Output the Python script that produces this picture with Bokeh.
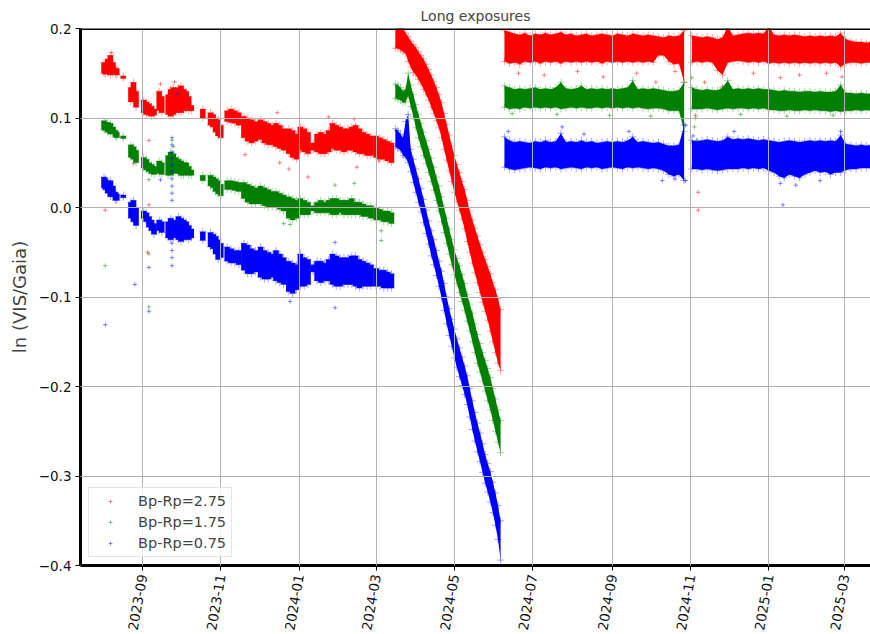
import math
import pandas as pd
from bokeh.plotting import figure
from bokeh.models import (ColumnDataSource, FixedTicker, DatetimeTickFormatter,
                          CustomJSTickFormatter, Range1d, Span, Legend, LegendItem)
from bokeh.embed import file_html
from bokeh.resources import INLINE

# ---------------- data ----------------
series_labels = ["Bp-Rp=2.75", "Bp-Rp=1.75", "Bp-Rp=0.75"]
series_colors = ["#ff0000", "#008000", "#0000ff"]

x_tick_labels = ["2023-09", "2023-11", "2024-01", "2024-03", "2024-05",
                 "2024-07", "2024-09", "2024-11", "2025-01", "2025-03"]
y_ticks = [-0.4, -0.3, -0.2, -0.1, 0.0, 0.1, 0.2]

# observation clumps, 2023-08 .. 2024-03 (value range of each clump)
early_dates = [
    "2023-08-02", "2023-08-03", "2023-08-05", "2023-08-07", "2023-08-09", "2023-08-11", "2023-08-12",
    "2023-08-17",
    "2023-08-23", "2023-08-25", "2023-08-27",
    "2023-09-02", "2023-09-04", "2023-09-06", "2023-09-08", "2023-09-10",
    "2023-09-14", "2023-09-16",
    "2023-09-21", "2023-09-23", "2023-09-25", "2023-09-27", "2023-09-29", "2023-10-01", "2023-10-03", "2023-10-05", "2023-10-07", "2023-10-09",
    "2023-10-18",
    "2023-10-24", "2023-10-26", "2023-10-28", "2023-10-30", "2023-11-01",
    "2023-11-06", "2023-11-09", "2023-11-12", "2023-11-15",
    "2023-11-19", "2023-11-22", "2023-11-25", "2023-11-28",
    "2023-12-02", "2023-12-05", "2023-12-08", "2023-12-11",
    "2023-12-14", "2023-12-17", "2023-12-20",
    "2023-12-24", "2023-12-27", "2023-12-30",
    "2024-01-02", "2024-01-05", "2024-01-08",
    "2024-01-12",
    "2024-01-15", "2024-01-18", "2024-01-21", "2024-01-24",
    "2024-01-27", "2024-01-30", "2024-02-02", "2024-02-05", "2024-02-08", "2024-02-11",
    "2024-02-14", "2024-02-17", "2024-02-20", "2024-02-23", "2024-02-26",
    "2024-03-01", "2024-03-04", "2024-03-07", "2024-03-10", "2024-03-13",
]
early_red_lo = [0.150, 0.149, 0.150, 0.148, 0.150, 0.149, 0.148,
                0.144,
                0.118, 0.120, 0.112,
                0.106, 0.104, 0.103, 0.102, 0.103,
                0.108, 0.106,
                0.104, 0.102, 0.104, 0.106, 0.108, 0.106, 0.108, 0.110, 0.108, 0.108,
                0.100,
                0.092, 0.090, 0.084, 0.080, 0.078,
                0.096, 0.095, 0.094, 0.092,
                0.078, 0.074, 0.072, 0.074,
                0.076, 0.072, 0.070, 0.070,
                0.068, 0.066, 0.064,
                0.060, 0.056, 0.054,
                0.064, 0.062, 0.060,
                0.064,
                0.062, 0.060, 0.060, 0.062,
                0.066, 0.064, 0.064, 0.062, 0.064, 0.064,
                0.062, 0.060, 0.060, 0.058, 0.058,
                0.056, 0.054, 0.054, 0.052, 0.050]
early_red_hi = [0.162, 0.160, 0.166, 0.170, 0.162, 0.156, 0.155,
                0.147,
                0.134, 0.140, 0.130,
                0.120, 0.118, 0.116, 0.113, 0.110,
                0.130, 0.124,
                0.126, 0.132, 0.134, 0.128, 0.134, 0.136, 0.132, 0.130, 0.124, 0.114,
                0.110,
                0.106, 0.104, 0.100, 0.098, 0.092,
                0.108, 0.110, 0.108, 0.106,
                0.102, 0.100, 0.098, 0.096,
                0.098, 0.096, 0.094, 0.092,
                0.094, 0.092, 0.088,
                0.088, 0.086, 0.082,
                0.090, 0.088, 0.084,
                0.072,
                0.082, 0.084, 0.082, 0.086,
                0.094, 0.092, 0.090, 0.088, 0.088, 0.090,
                0.092, 0.088, 0.084, 0.082, 0.080,
                0.080, 0.078, 0.076, 0.074, 0.072]
early_green_lo = [0.087, 0.086, 0.084, 0.082, 0.082, 0.079, 0.078,
                  0.077,
                  0.056, 0.054, 0.050,
                  0.044, 0.042, 0.040, 0.038, 0.037,
                  0.038, 0.037,
                  0.036, 0.036, 0.038, 0.040, 0.038, 0.036, 0.036, 0.038, 0.036, 0.036,
                  0.030,
                  0.024, 0.022, 0.018, 0.015, 0.013,
                  0.020, 0.020, 0.019, 0.018,
                  0.010, 0.006, 0.004, 0.004,
                  0.004, 0.002, 0.000, 0.000,
                  0.000, -0.002, -0.004,
                  -0.012, -0.014, -0.012,
                  -0.008, -0.008, -0.008,
                  -0.004,
                  -0.006, -0.006, -0.006, -0.006,
                  -0.008, -0.008, -0.006, -0.008, -0.008, -0.008,
                  -0.008, -0.008, -0.010, -0.010, -0.012,
                  -0.014, -0.014, -0.016, -0.016, -0.018]
early_green_hi = [0.097, 0.095, 0.095, 0.094, 0.090, 0.086, 0.084,
                  0.080,
                  0.070, 0.068, 0.064,
                  0.056, 0.054, 0.050, 0.048, 0.046,
                  0.052, 0.050,
                  0.058, 0.062, 0.060, 0.056, 0.054, 0.052, 0.050, 0.050, 0.046, 0.042,
                  0.036,
                  0.036, 0.034, 0.032, 0.030, 0.026,
                  0.030, 0.030, 0.029, 0.028,
                  0.028, 0.026, 0.024, 0.022,
                  0.024, 0.022, 0.020, 0.018,
                  0.018, 0.016, 0.014,
                  0.012, 0.010, 0.008,
                  0.010, 0.008, 0.006,
                  0.002,
                  0.006, 0.008, 0.006, 0.008,
                  0.010, 0.010, 0.008, 0.008, 0.008, 0.010,
                  0.006, 0.006, 0.004, 0.002, 0.002,
                  0.000, -0.002, -0.004, -0.004, -0.006]
early_blue_lo = [0.022, 0.020, 0.016, 0.012, 0.012, 0.008, 0.008,
                 0.011,
                 -0.012, -0.016, -0.020,
                 -0.012, -0.016, -0.022, -0.026, -0.030,
                 -0.026, -0.028,
                 -0.034, -0.036, -0.034, -0.030, -0.036, -0.038, -0.036, -0.034, -0.036, -0.034,
                 -0.037,
                 -0.044, -0.046, -0.052, -0.058, -0.056,
                 -0.060, -0.062, -0.062, -0.064,
                 -0.070, -0.074, -0.074, -0.072,
                 -0.078, -0.080, -0.080, -0.078,
                 -0.082, -0.084, -0.086,
                 -0.094, -0.096, -0.092,
                 -0.088, -0.088, -0.086,
                 -0.072,
                 -0.082, -0.084, -0.082, -0.082,
                 -0.086, -0.088, -0.088, -0.086, -0.086, -0.086,
                 -0.088, -0.090, -0.088, -0.088, -0.088,
                 -0.088, -0.088, -0.090, -0.090, -0.090]
early_blue_hi = [0.034, 0.032, 0.030, 0.030, 0.024, 0.017, 0.015,
                 0.014,
                 0.006, 0.008, 0.000,
                 -0.004, -0.006, -0.010, -0.014, -0.018,
                 -0.014, -0.016,
                 -0.016, -0.012, -0.014, -0.016, -0.010, -0.012, -0.014, -0.016, -0.020, -0.024,
                 -0.027,
                 -0.028, -0.030, -0.032, -0.036, -0.040,
                 -0.044, -0.046, -0.048, -0.048,
                 -0.040, -0.042, -0.046, -0.048,
                 -0.044, -0.048, -0.050, -0.052,
                 -0.048, -0.052, -0.056,
                 -0.060, -0.062, -0.064,
                 -0.052, -0.056, -0.058,
                 -0.064,
                 -0.060, -0.060, -0.062, -0.058,
                 -0.052, -0.054, -0.056, -0.056, -0.056, -0.054,
                 -0.054, -0.058, -0.060, -0.062, -0.064,
                 -0.068, -0.070, -0.070, -0.072, -0.074]

# the fast decline, 2024-03-16 .. 2024-06-06
decline_dates = [
    "2024-03-16", "2024-03-18", "2024-03-20", "2024-03-22", "2024-03-24", "2024-03-26", "2024-03-28", "2024-03-30",
    "2024-04-01", "2024-04-03", "2024-04-05", "2024-04-07", "2024-04-09", "2024-04-11", "2024-04-13", "2024-04-15",
    "2024-04-17", "2024-04-19", "2024-04-21", "2024-04-23", "2024-04-25", "2024-04-27", "2024-04-29",
    "2024-05-01", "2024-05-03", "2024-05-05", "2024-05-07", "2024-05-09", "2024-05-11", "2024-05-13", "2024-05-15",
    "2024-05-17", "2024-05-19", "2024-05-21", "2024-05-23", "2024-05-25", "2024-05-27", "2024-05-29", "2024-05-31",
    "2024-06-02", "2024-06-04", "2024-06-06",
]
decline_red_lo = [0.178, 0.178, 0.176, 0.174, 0.172, 0.163, 0.157, 0.151,
                  0.148, 0.143, 0.138, 0.132, 0.126, 0.120, 0.112, 0.105,
                  0.097, 0.089, 0.078, 0.065, 0.053, 0.041, 0.029,
                  0.017, 0.007, -0.003, -0.013, -0.024, -0.038, -0.050, -0.062,
                  -0.073, -0.084, -0.095, -0.106, -0.116, -0.126, -0.138, -0.150,
                  -0.162, -0.174, -0.182]
decline_red_hi = [0.205, 0.205, 0.205, 0.200, 0.195, 0.191, 0.186, 0.182,
                  0.179, 0.174, 0.170, 0.166, 0.160, 0.154, 0.148, 0.141,
                  0.134, 0.126, 0.117, 0.105, 0.093, 0.081, 0.069,
                  0.058, 0.048, 0.039, 0.029, 0.020, 0.008, -0.004, -0.014,
                  -0.023, -0.032, -0.041, -0.050, -0.058, -0.066, -0.074, -0.084,
                  -0.092, -0.102, -0.114]
decline_green_lo = [0.122, 0.121, 0.120, 0.117, 0.118, 0.125, 0.113, 0.102,
                    0.089, 0.078, 0.068, 0.058, 0.049, 0.039, 0.029, 0.019,
                    0.008, -0.004, -0.016, -0.028, -0.040, -0.052, -0.064,
                    -0.075, -0.085, -0.095, -0.105, -0.115, -0.127, -0.138, -0.150,
                    -0.162, -0.174, -0.184, -0.194, -0.205, -0.216, -0.226, -0.238,
                    -0.250, -0.262, -0.274]
decline_green_hi = [0.138, 0.137, 0.134, 0.130, 0.132, 0.150, 0.137, 0.126,
                    0.115, 0.104, 0.094, 0.084, 0.075, 0.065, 0.055, 0.045,
                    0.034, 0.024, 0.012, 0.000, -0.012, -0.024, -0.036,
                    -0.047, -0.057, -0.065, -0.075, -0.085, -0.097, -0.108, -0.118,
                    -0.130, -0.142, -0.152, -0.162, -0.171, -0.180, -0.190, -0.202,
                    -0.214, -0.226, -0.238]
decline_blue_lo = [0.068, 0.066, 0.064, 0.058, 0.056, 0.050, 0.040, 0.028,
                   0.017, 0.006, -0.005, -0.017, -0.029, -0.041, -0.054, -0.064,
                   -0.076, -0.088, -0.101, -0.115, -0.130, -0.143, -0.155,
                   -0.168, -0.179, -0.189, -0.199, -0.209, -0.220, -0.234, -0.248,
                   -0.261, -0.273, -0.284, -0.296, -0.308, -0.318, -0.329, -0.341,
                   -0.355, -0.371, -0.394]
decline_blue_hi = [0.088, 0.086, 0.082, 0.078, 0.096, 0.104, 0.065, 0.054,
                   0.043, 0.032, 0.021, 0.009, -0.003, -0.015, -0.026, -0.036,
                   -0.048, -0.060, -0.071, -0.085, -0.100, -0.113, -0.125,
                   -0.136, -0.147, -0.157, -0.167, -0.177, -0.188, -0.202, -0.216,
                   -0.229, -0.241, -0.252, -0.264, -0.276, -0.286, -0.295, -0.307,
                   -0.319, -0.333, -0.350]

# the stable period, 2024-06-09 .. 2025-03-22 (data gap near 2024-10-30)
late_dates = [
    "2024-06-09", "2024-06-13", "2024-06-17", "2024-06-21", "2024-06-25", "2024-06-29",
    "2024-07-03", "2024-07-07", "2024-07-11", "2024-07-15", "2024-07-19", "2024-07-23", "2024-07-27", "2024-07-31",
    "2024-08-04", "2024-08-08", "2024-08-12", "2024-08-16", "2024-08-20", "2024-08-24", "2024-08-28",
    "2024-09-01", "2024-09-05", "2024-09-09", "2024-09-13", "2024-09-17", "2024-09-21", "2024-09-25", "2024-09-29",
    "2024-10-03", "2024-10-07", "2024-10-11", "2024-10-15", "2024-10-19", "2024-10-23", "2024-10-27",
    "2024-11-02", "2024-11-06", "2024-11-10", "2024-11-14", "2024-11-18", "2024-11-22", "2024-11-26", "2024-11-30",
    "2024-12-04", "2024-12-08", "2024-12-12", "2024-12-16", "2024-12-20", "2024-12-24", "2024-12-28",
    "2025-01-01", "2025-01-05", "2025-01-09", "2025-01-13", "2025-01-17", "2025-01-21", "2025-01-25", "2025-01-29",
    "2025-02-02", "2025-02-06", "2025-02-10", "2025-02-14", "2025-02-18", "2025-02-22", "2025-02-26",
    "2025-03-02", "2025-03-06", "2025-03-10", "2025-03-14", "2025-03-18", "2025-03-22",
]
late_gap_index = 36  # first knot after the data gap
late_red_lo = [0.163, 0.161, 0.162, 0.160, 0.163, 0.162,
               0.163, 0.161, 0.163, 0.162, 0.163, 0.161, 0.163, 0.162,
               0.163, 0.162, 0.163, 0.162, 0.163, 0.161, 0.163,
               0.162, 0.163, 0.162, 0.163, 0.162, 0.163, 0.162, 0.163,
               0.162, 0.170, 0.170, 0.163, 0.160, 0.161, 0.140,
               0.162, 0.163, 0.162, 0.163, 0.162, 0.153, 0.148, 0.162,
               0.163, 0.164, 0.163, 0.162, 0.163, 0.162, 0.163,
               0.161, 0.162, 0.161, 0.162, 0.161, 0.162, 0.161, 0.162,
               0.161, 0.162, 0.161, 0.162, 0.161, 0.162, 0.157,
               0.161, 0.162, 0.162, 0.161, 0.162, 0.162]
late_red_hi = [0.198, 0.196, 0.194, 0.193, 0.195, 0.192,
               0.194, 0.193, 0.195, 0.193, 0.194, 0.196, 0.193, 0.194,
               0.192, 0.193, 0.194, 0.192, 0.193, 0.194, 0.193,
               0.192, 0.194, 0.193, 0.192, 0.194, 0.193, 0.192, 0.193,
               0.192, 0.191, 0.190, 0.192, 0.191, 0.192, 0.198,
               0.192, 0.191, 0.190, 0.191, 0.190, 0.188, 0.190, 0.203,
               0.192, 0.193, 0.194, 0.195, 0.194, 0.195, 0.194,
               0.203, 0.193, 0.192, 0.193, 0.192, 0.193, 0.192, 0.191,
               0.192, 0.191, 0.192, 0.191, 0.192, 0.191, 0.195,
               0.188, 0.186, 0.185, 0.185, 0.184, 0.185]
late_green_lo = [0.112, 0.110, 0.111, 0.110, 0.112, 0.111,
                 0.112, 0.111, 0.112, 0.111, 0.112, 0.110, 0.111, 0.112,
                 0.111, 0.112, 0.111, 0.111, 0.112, 0.111, 0.112,
                 0.111, 0.112, 0.111, 0.112, 0.111, 0.112, 0.111, 0.110,
                 0.111, 0.111, 0.110, 0.108, 0.108, 0.108, 0.085,
                 0.110, 0.110, 0.110, 0.111, 0.110, 0.109, 0.110, 0.111,
                 0.110, 0.111, 0.111, 0.110, 0.111, 0.110, 0.111,
                 0.109, 0.109, 0.108, 0.108, 0.109, 0.108, 0.108, 0.109,
                 0.108, 0.109, 0.108, 0.108, 0.107, 0.108, 0.107,
                 0.108, 0.108, 0.109, 0.108, 0.109, 0.108]
late_green_hi = [0.136, 0.134, 0.132, 0.133, 0.132, 0.133,
                 0.134, 0.132, 0.133, 0.132, 0.134, 0.140, 0.133, 0.132,
                 0.133, 0.136, 0.132, 0.133, 0.132, 0.133, 0.132,
                 0.133, 0.132, 0.133, 0.134, 0.142, 0.132, 0.133, 0.132,
                 0.133, 0.132, 0.131, 0.130, 0.130, 0.131, 0.140,
                 0.134, 0.132, 0.131, 0.132, 0.131, 0.131, 0.134, 0.142,
                 0.132, 0.133, 0.132, 0.133, 0.132, 0.133, 0.132,
                 0.132, 0.131, 0.130, 0.131, 0.130, 0.130, 0.129, 0.130,
                 0.130, 0.129, 0.130, 0.129, 0.129, 0.130, 0.137,
                 0.128, 0.128, 0.127, 0.128, 0.127, 0.127]
late_blue_lo = [0.045, 0.043, 0.042, 0.043, 0.044, 0.045,
                0.044, 0.043, 0.045, 0.044, 0.045, 0.043, 0.044, 0.045,
                0.044, 0.043, 0.045, 0.044, 0.045, 0.043, 0.044,
                0.045, 0.044, 0.043, 0.045, 0.044, 0.045, 0.044, 0.043,
                0.044, 0.043, 0.041, 0.037, 0.035, 0.037, 0.030,
                0.043, 0.043, 0.042, 0.043, 0.042, 0.041, 0.042, 0.043,
                0.043, 0.043, 0.044, 0.043, 0.044, 0.043, 0.044,
                0.041, 0.039, 0.035, 0.033, 0.037, 0.035, 0.033, 0.037,
                0.039, 0.041, 0.039, 0.040, 0.037, 0.039, 0.039,
                0.042, 0.043, 0.043, 0.044, 0.044, 0.044]
late_blue_hi = [0.079, 0.075, 0.073, 0.074, 0.073, 0.072,
                0.074, 0.073, 0.075, 0.073, 0.074, 0.083, 0.073, 0.074,
                0.073, 0.075, 0.073, 0.074, 0.072, 0.073, 0.074,
                0.073, 0.074, 0.073, 0.075, 0.079, 0.073, 0.074, 0.073,
                0.072, 0.073, 0.071, 0.069, 0.069, 0.070, 0.092,
                0.075, 0.074, 0.075, 0.076, 0.075, 0.074, 0.075, 0.079,
                0.076, 0.077, 0.076, 0.077, 0.076, 0.075, 0.076,
                0.075, 0.074, 0.073, 0.074, 0.075, 0.074, 0.073, 0.074,
                0.075, 0.074, 0.075, 0.074, 0.075, 0.074, 0.081,
                0.071, 0.070, 0.069, 0.070, 0.069, 0.070]

# isolated points away from the main bands
red_out_dates = ["2023-08-03", "2023-08-08", "2023-08-25", "2023-09-06", "2023-09-06", "2023-09-05", "2023-09-15",
                 "2023-09-26", "2023-11-20", "2023-12-15", "2023-12-17", "2023-12-24", "2024-01-08", "2024-01-24",
                 "2024-02-13", "2024-02-15", "2024-03-03", "2024-06-20", "2024-07-10", "2024-08-05", "2024-08-25",
                 "2024-09-20", "2024-10-05", "2024-10-20", "2024-11-05", "2024-11-07", "2024-11-07", "2024-11-09",
                 "2024-11-12", "2024-11-26", "2024-12-20", "2025-01-10", "2025-01-25", "2025-02-15", "2025-02-27"]
red_out_vals = [-0.003, 0.173, 0.049, 0.075, 0.003, -0.050, 0.138,
                0.140, 0.059, 0.106, 0.050, 0.043, 0.034, 0.101,
                0.099, 0.045, 0.052, 0.150, 0.148, 0.152, 0.146,
                0.150, 0.140, 0.152, 0.103, 0.017, -0.003, 0.072,
                0.140, 0.135, 0.150, 0.145, 0.148, 0.150, 0.146]
green_out_dates = ["2023-08-03", "2023-09-06", "2023-09-06", "2023-09-06", "2023-09-24", "2023-09-25", "2023-12-20",
                   "2023-12-25", "2024-01-29", "2024-02-13", "2024-03-05", "2024-03-05", "2024-06-15", "2024-07-20",
                   "2024-08-30", "2024-10-01", "2024-11-02", "2024-11-04", "2024-11-05", "2024-11-06", "2024-11-08",
                   "2024-12-10", "2025-01-15", "2025-02-20", "2025-02-26"]
green_out_vals = [-0.065, 0.031, -0.052, -0.111, 0.075, 0.068, -0.018,
                  -0.019, 0.025, 0.027, -0.026, -0.037, 0.105, 0.104,
                  0.103, 0.102, 0.145, 0.090, 0.100, 0.075, 0.060,
                  0.104, 0.102, 0.103, 0.135]
blue_out_dates = ["2023-08-03", "2023-08-26", "2023-09-06", "2023-09-06", "2023-09-15",
                  "2023-09-24", "2023-09-24", "2023-09-24", "2023-09-24", "2023-09-24", "2023-09-24", "2023-09-24",
                  "2023-09-24", "2023-09-24", "2023-09-24", "2023-09-24", "2023-09-24", "2023-09-24", "2023-09-24",
                  "2023-09-28", "2023-12-25", "2024-01-29", "2024-01-29",
                  "2024-06-12", "2024-07-24", "2024-08-10", "2024-09-14", "2024-10-10", "2024-10-20", "2024-10-28",
                  "2024-10-28", "2024-11-03", "2024-12-05", "2025-01-10", "2025-01-12", "2025-01-22", "2025-02-10",
                  "2025-02-26"]
blue_out_vals = [-0.131, -0.086, -0.067, -0.116, 0.031,
                 0.078, 0.070, 0.062, 0.055, 0.047, 0.040, 0.032,
                 0.024, 0.016, 0.008, -0.040, -0.048, -0.056, -0.065,
                 0.127, -0.105, -0.112, -0.039,
                 0.085, 0.090, 0.082, 0.085, 0.030, 0.032, 0.092,
                 0.030, 0.080, 0.085, 0.027, 0.003, 0.025, 0.030,
                 0.085]

# ---------------- figure ----------------
FONT = "DejaVu Sans"
p = figure(width=870, height=634, x_axis_type="datetime",
           output_backend="svg", toolbar_location=None,
           x_range=Range1d(pd.Timestamp("2023-07-14 17:00"), pd.Timestamp("2025-03-21 05:00")),
           y_range=Range1d(-0.4, 0.2),
           min_border_left=80, min_border_right=0, min_border_top=0, min_border_bottom=0,
           title="Long exposures")
p.outline_line_color = None
p.background_fill_color = "white"
p.border_fill_color = "white"

p.title.align = "center"
p.title.offset = 6
p.title.text_font = FONT
p.title.text_font_size = "14px"
p.title.text_font_style = "normal"

x_ticks = [pd.Timestamp(s + "-01").timestamp() * 1000 for s in x_tick_labels]
p.xaxis.ticker = FixedTicker(ticks=x_ticks)
p.xaxis.formatter = DatetimeTickFormatter(months="%Y-%m", days="%Y-%m", years="%Y-%m",
                                          hours="%Y-%m", minutes="%Y-%m")
p.xaxis.major_label_orientation = math.radians(80)
p.yaxis.ticker = FixedTicker(ticks=y_ticks)
p.yaxis.formatter = CustomJSTickFormatter(code="return tick.toFixed(1).replace('-', '\u2212');")
p.yaxis.axis_label = "ln (VIS/Gaia)"
p.yaxis.axis_label_text_font = FONT
p.yaxis.axis_label_text_font_size = "18px"
p.yaxis.axis_label_text_font_style = "normal"
p.yaxis.axis_label_standoff = 6

for ax in (p.xaxis[0], p.yaxis[0]):
    ax.axis_line_width = 3
    ax.axis_line_color = "black"
    ax.major_tick_in = 0
    ax.major_tick_out = 5
    ax.minor_tick_line_color = None
    ax.major_label_text_font = FONT
    ax.major_label_text_font_size = "13.5px"
    ax.major_label_text_color = "#111111"
    ax.major_label_standoff = 4

for g in (p.xgrid[0], p.ygrid[0]):
    g.grid_line_color = "#b0b0b0"
    g.grid_line_width = 1
    g.level = "guide"
p.xgrid.ticker = FixedTicker(ticks=x_ticks)
p.ygrid.ticker = FixedTicker(ticks=y_ticks)

p.add_layout(Span(location=0.2, dimension="width", line_color="black", line_width=3))

series = [
    (early_red_lo, early_red_hi, decline_red_lo, decline_red_hi, late_red_lo, late_red_hi,
     red_out_dates, red_out_vals),
    (early_green_lo, early_green_hi, decline_green_lo, decline_green_hi, late_green_lo, late_green_hi,
     green_out_dates, green_out_vals),
    (early_blue_lo, early_blue_hi, decline_blue_lo, decline_blue_hi, late_blue_lo, late_blue_hi,
     blue_out_dates, blue_out_vals),
]

items = []
for (elo, ehi, dlo, dhi, llo, lhi, od, ov), label, color in zip(series, series_labels, series_colors):
    assert len(elo) == len(ehi) == len(early_dates), label
    assert len(dlo) == len(dhi) == len(decline_dates), label
    assert len(llo) == len(lhi) == len(late_dates), label
    assert len(od) == len(ov), label
    # separate observation clumps
    esrc = ColumnDataSource(dict(x=pd.to_datetime(early_dates), lo=elo, hi=ehi))
    p.segment(x0="x", y0="lo", x1="x", y1="hi", source=esrc,
              line_color=color, line_alpha=1.0, line_width=5.5)
    # continuous bands
    pieces = [(decline_dates, dlo, dhi),
              (late_dates[:late_gap_index], llo[:late_gap_index], lhi[:late_gap_index]),
              (late_dates[late_gap_index:], llo[late_gap_index:], lhi[late_gap_index:])]
    for d, lo, hi in pieces:
        bsrc = ColumnDataSource(dict(x=pd.to_datetime(d), lo=lo, hi=hi))
        p.varea(x="x", y1="lo", y2="hi", source=bsrc, fill_color=color, fill_alpha=1.0)
    # fuzzy edges
    all_d = early_dates + decline_dates + late_dates
    fsrc = ColumnDataSource(dict(x=pd.to_datetime(all_d), lo=elo + dlo + llo, hi=ehi + dhi + lhi))
    p.scatter(x="x", y="lo", source=fsrc, marker="cross", size=7,
              line_color=color, line_alpha=0.35)
    p.scatter(x="x", y="hi", source=fsrc, marker="cross", size=7,
              line_color=color, line_alpha=0.35)
    osrc = ColumnDataSource(dict(x=pd.to_datetime(od), y=ov))
    r_out = p.scatter(x="x", y="y", source=osrc, marker="cross", size=4.5,
                      line_color=color, line_alpha=0.45)
    items.append(LegendItem(label=label, renderers=[r_out]))

legend = Legend(items=items, location=(8, 8), margin=0,
                label_text_font=FONT, label_text_font_size="14.5px",
                glyph_width=32, glyph_height=10, label_standoff=12,
                padding=5, spacing=5,
                border_line_color="#cccccc", border_line_width=1,
                background_fill_color="white", background_fill_alpha=0.8)
p.add_layout(legend)

open("out.html", "w").write(file_html(p, INLINE))
